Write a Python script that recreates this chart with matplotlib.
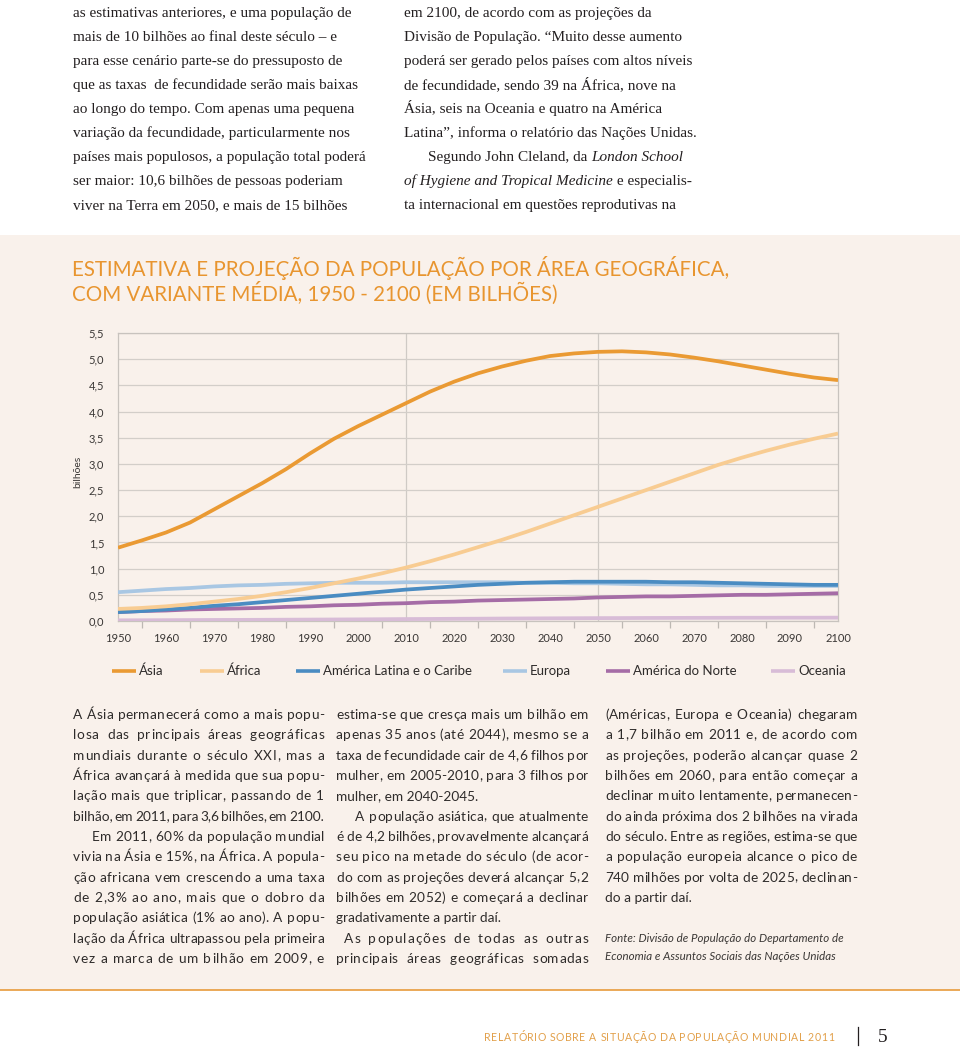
import matplotlib.pyplot as plt
from matplotlib.lines import Line2D
from matplotlib.patches import Rectangle
from matplotlib.ticker import MultipleLocator

# ---- data (billions) ----
years = list(range(1950, 2101, 5))
asia = [1.40, 1.54, 1.69, 1.88, 2.13, 2.38, 2.63, 2.90, 3.20, 3.48, 3.72, 3.94, 4.16,
        4.38, 4.57, 4.73, 4.86, 4.97, 5.06, 5.11, 5.14, 5.15, 5.13, 5.09, 5.03, 4.96,
        4.88, 4.80, 4.72, 4.65, 4.60]
africa = [0.23, 0.25, 0.28, 0.32, 0.37, 0.42, 0.48, 0.55, 0.63, 0.72, 0.81, 0.91, 1.02,
          1.14, 1.27, 1.41, 1.55, 1.70, 1.86, 2.02, 2.18, 2.34, 2.50, 2.66, 2.82, 2.98,
          3.12, 3.25, 3.37, 3.48, 3.58]
latam = [0.17, 0.19, 0.22, 0.25, 0.29, 0.32, 0.36, 0.40, 0.44, 0.48, 0.52, 0.56, 0.60,
         0.63, 0.66, 0.69, 0.71, 0.73, 0.74, 0.75, 0.75, 0.75, 0.75, 0.74, 0.74, 0.73,
         0.72, 0.71, 0.70, 0.69, 0.69]
europe = [0.55, 0.58, 0.61, 0.63, 0.66, 0.68, 0.69, 0.71, 0.72, 0.73, 0.73, 0.73, 0.74,
          0.74, 0.74, 0.74, 0.74, 0.73, 0.73, 0.72, 0.72, 0.71, 0.70, 0.70, 0.69, 0.68,
          0.68, 0.67, 0.67, 0.67, 0.67]
namerica = [0.17, 0.19, 0.20, 0.22, 0.23, 0.24, 0.25, 0.27, 0.28, 0.30, 0.31, 0.33, 0.34,
            0.36, 0.37, 0.39, 0.40, 0.41, 0.42, 0.43, 0.45, 0.46, 0.47, 0.47, 0.48, 0.49,
            0.50, 0.50, 0.51, 0.52, 0.53]
oceania = [0.013, 0.014, 0.016, 0.018, 0.020, 0.021, 0.023, 0.025, 0.027, 0.029, 0.031,
           0.034, 0.037, 0.039, 0.042, 0.044, 0.047, 0.049, 0.051, 0.053, 0.055, 0.056,
           0.058, 0.059, 0.060, 0.061, 0.062, 0.062, 0.063, 0.063, 0.064]

regions = ['Ásia', 'África', 'América Latina e o Caribe', 'Europa',
           'América do Norte', 'Oceania']
series = [asia, africa, latam, europe, namerica, oceania]
colors = ['#EA9A33', '#F8CC92', '#4A8CC2', '#A9C7E3', '#A56CA6', '#D8BCD7']
draw_order = [5, 3, 4, 2, 1, 0]

yticks = [0.0, 0.5, 1.0, 1.5, 2.0, 2.5, 3.0, 3.5, 4.0, 4.5, 5.0, 5.5]
ytick_labels = ['0,0', '0,5', '1,0', '1,5', '2,0', '2,5', '3,0', '3,5', '4,0', '4,5',
                '5,0', '5,5']
xticks = list(range(1950, 2101, 10))
vgrid = [2010, 2050]

title = ['ESTIMATIVA E PROJEÇÃO DA POPULAÇÃO POR ÁREA GEOGRÁFICA,',
         'COM VARIANTE MÉDIA, 1950 - 2100 (EM BILHÕES)']

top_left = ['as estimativas anteriores, e uma população de',
            'mais de 10 bilhões ao final deste século – e',
            'para esse cenário parte-se do pressuposto de',
            'que as taxas  de fecundidade serão mais baixas',
            'ao longo do tempo. Com apenas uma pequena',
            'variação da fecundidade, particularmente nos',
            'países mais populosos, a população total poderá',
            'ser maior: 10,6 bilhões de pessoas poderiam',
            'viver na Terra em 2050, e mais de 15 bilhões']
# each line: list of (text, italic)
top_right = [[('em 2100, de acordo com as projeções da', False)],
             [('Divisão de População. “Muito desse aumento', False)],
             [('poderá ser gerado pelos países com altos níveis', False)],
             [('de fecundidade, sendo 39 na África, nove na', False)],
             [('Ásia, seis na Oceania e quatro na América', False)],
             [('Latina”, informa o relatório das Nações Unidas.', False)],
             [('Segundo John Cleland, da ', False), ('London School', True)],
             [('of Hygiene and Tropical Medicine', True), (' e especialis-', False)],
             [('ta internacional em questões reprodutivas na', False)]]
top_right_indent = [0, 0, 0, 0, 0, 0, 24, 0, 0]

# (text, indent, justified)
col1 = [('A Ásia permanecerá como a mais popu-', 0, True),
        ('losa das principais áreas geográficas', 0, True),
        ('mundiais durante o século XXI, mas a', 0, True),
        ('África avançará à medida que sua popu-', 0, True),
        ('lação mais que triplicar, passando de 1', 0, True),
        ('bilhão, em 2011, para 3,6 bilhões, em 2100.', 0, True),
        ('Em 2011, 60% da população mundial', 19, True),
        ('vivia na Ásia e 15%, na África. A popula-', 0, True),
        ('ção africana vem crescendo a uma taxa', 0, True),
        ('de 2,3% ao ano, mais que o dobro da', 0, True),
        ('população asiática (1% ao ano). A popu-', 0, True),
        ('lação da África ultrapassou pela primeira', 0, True),
        ('vez a marca de um bilhão em 2009, e', 0, True)]
col2 = [('estima-se que cresça mais um bilhão em', 0, True),
        ('apenas 35 anos (até 2044), mesmo se a', 0, True),
        ('taxa de fecundidade cair de 4,6 filhos por', 0, True),
        ('mulher, em 2005-2010, para 3 filhos por', 0, True),
        ('mulher, em 2040-2045.', 0, False),
        ('A população asiática, que atualmente', 19, True),
        ('é de 4,2 bilhões, provavelmente alcançará', 0, True),
        ('seu pico na metade do século (de acor-', 0, True),
        ('do com as projeções deverá alcançar 5,2', 0, True),
        ('bilhões em 2052) e começará a declinar', 0, True),
        ('gradativamente a partir daí.', 0, False),
        ('As populações de todas as outras', 8, True),
        ('principais áreas geográficas somadas', 0, True)]
col3 = [('(Américas, Europa e Oceania) chegaram', 0, True),
        ('a 1,7 bilhão em 2011 e, de acordo com', 0, True),
        ('as projeções, poderão alcançar quase 2', 0, True),
        ('bilhões em 2060, para então começar a', 0, True),
        ('declinar muito lentamente, permanecen-', 0, True),
        ('do ainda próxima dos 2 bilhões na virada', 0, True),
        ('do século. Entre as regiões, estima-se que', 0, True),
        ('a população europeia alcance o pico de', 0, True),
        ('740 milhões por volta de 2025, declinan-', 0, True),
        ('do a partir daí.', 0, False)]
source = ['Fonte: Divisão de População do Departamento de',
          'Economia e Assuntos Sociais das Nações Unidas']
footer = 'RELATÓRIO SOBRE A SITUAÇÃO DA POPULAÇÃO MUNDIAL 2011'
page = '5'

# ---- styles ----
cream = '#F9F1EB'
orange = '#E8952F'
ink = '#231F20'
body = '#2E2B2A'
sans = ['Lato', 'DejaVu Sans']
serif = ['Liberation Serif', 'DejaVu Serif']

fig = plt.figure(figsize=(9.6, 10.49), dpi=100)
bg = fig.add_axes([0, 0, 1, 1])
bg.set_xlim(0, 960)
bg.set_ylim(1049, 0)
bg.axis('off')
bg.add_patch(Rectangle((0, 235), 960, 755, facecolor=cream, edgecolor='none', zorder=0))
bg.plot([0, 960], [990, 990], color='#E9A24A', lw=1.3, zorder=1)

renderer = fig.canvas.get_renderer()
_cache = {}


def width(s, **kw):
    key = (s, tuple(sorted((k, str(v)) for k, v in kw.items())))
    if key in _cache:
        return _cache[key]
    t = bg.text(0, 0, s + '|', **kw)
    w1 = t.get_window_extent(renderer).width
    t.set_text('|')
    w2 = t.get_window_extent(renderer).width
    t.remove()
    _cache[key] = w1 - w2
    return w1 - w2


def word(w, x, y, track, **kw):
    if track <= 0:
        bg.text(x, y, w, ha='left', va='baseline', **kw)
        return
    for i, ch in enumerate(w):
        bg.text(x + width(w[:i], **kw) + i * track, y, ch, ha='left', va='baseline', **kw)


def justified(s, x0, x1, y, **kw):
    words = s.split()
    ws = [width(w, **kw) for w in words]
    sp = width('a a', **kw) - width('aa', **kw)
    ngaps = max(len(words) - 1, 1)
    inner = sum(len(w) - 1 for w in words)
    extra = (x1 - x0) - sum(ws) - sp * ngaps
    track = min(extra * 0.45 / max(inner, 1), 0.9) if extra > 0 else 0
    gap = (x1 - x0 - sum(ws) - track * inner) / ngaps
    x = x0
    for w, wd in zip(words, ws):
        word(w, x, y, track, **kw)
        x += wd + track * (len(w) - 1) + gap


def runs(parts, x, y, **kw):
    for s, it in parts:
        bg.text(x, y, s, ha='left', va='baseline', style='italic' if it else 'normal', **kw)
        x += width(s, style='italic' if it else 'normal', **kw)


def tracked(s, x, x_end, y, **kw):
    # spread the characters evenly so the run spans x .. x_end
    natural = width(s, **kw)
    track = (x_end - x - natural) / (len(s) - 1)
    for i, ch in enumerate(s):
        bg.text(x + width(s[:i], **kw) + i * track, y, ch, ha='left', va='baseline', **kw)


# top serif text
for i, line in enumerate(top_left):
    bg.text(73, 17.5 + i * 23.95, line, ha='left', va='baseline', color=ink,
            family=serif, fontsize=11)
for i, parts in enumerate(top_right):
    runs(parts, 404 + top_right_indent[i], 17.5 + i * 23.95, color=ink, family=serif, fontsize=11)

# chart title
for i, line in enumerate(title):
    bg.text(72, 276 + i * 24.5, line, ha='left', va='baseline', color=orange,
            family=sans, fontsize=14.8)

# chart
ax = fig.add_axes([118 / 960, 1 - 621 / 1049, 720 / 960, 288 / 1049])
ax.set_facecolor('none')
for k in draw_order:
    ax.plot(years, series[k], color=colors[k], lw=2.7, solid_capstyle='butt', zorder=3)
ax.set_xlim(1950, 2100)
ax.set_ylim(0, 5.5)
ax.set_yticks(yticks)
ax.set_yticklabels(ytick_labels)
ax.set_xticks(xticks)
ax.xaxis.set_minor_locator(MultipleLocator(5))
ax.grid(axis='y', color='#D3CEC9', lw=0.9, zorder=1)
for v in vgrid:
    ax.axvline(v, color='#CFCAC5', lw=0.9, zorder=1)
for s in ax.spines.values():
    s.set_color('#C8C3BE')
    s.set_linewidth(0.9)
ax.tick_params(axis='y', length=0, pad=10, labelsize=8, labelcolor='#3A3735')
ax.tick_params(axis='x', which='major', length=0, pad=9, labelsize=8, labelcolor='#3A3735')
ax.tick_params(axis='x', which='minor', length=5, width=0.9, color='#BDB8B3')
for lab in ax.get_xticklabels() + ax.get_yticklabels():
    lab.set_family(sans)
bg.text(78, 472, 'bilhões', rotation=90, ha='center', va='center', color='#3A3735',
        family=sans, fontsize=7.5)

# legend
legend_x = [112, 200, 296, 503, 606, 771]
for k, x in enumerate(legend_x):
    bg.add_line(Line2D([x, x + 24], [671, 671], color=colors[k], lw=2.6, solid_capstyle='butt'))
    bg.text(x + 27, 671, regions[k], ha='left', va='center', color='#2E2B2A',
            family=sans, fontsize=9.5)

# lower body text
col_x = [(73, 324), (336, 588), (605, 857)]
for (x0, x1), col in zip(col_x, [col1, col2, col3]):
    for i, (line, ind, just) in enumerate(col):
        y = 719 + i * 20.33
        if just:
            justified(line, x0 + ind, x1, y, color=body, family=sans, fontsize=9.8)
        else:
            bg.text(x0 + ind, y, line, ha='left', va='baseline', color=body,
                    family=sans, fontsize=9.8)
for i, line in enumerate(source):
    bg.text(605, 942 + i * 17.5, line, ha='left', va='baseline', color='#3A3735',
            family=sans, style='italic', fontsize=8.3)

# footer
tracked(footer, 484, 834, 1041, color='#E2A04A', family=sans, fontsize=7.6)
bg.plot([858, 858], [1027, 1045], color=ink, lw=0.9)
bg.text(878, 1042, page, ha='left', va='baseline', color=ink, family=serif, fontsize=14)

fig.savefig('out.png', dpi=100)
